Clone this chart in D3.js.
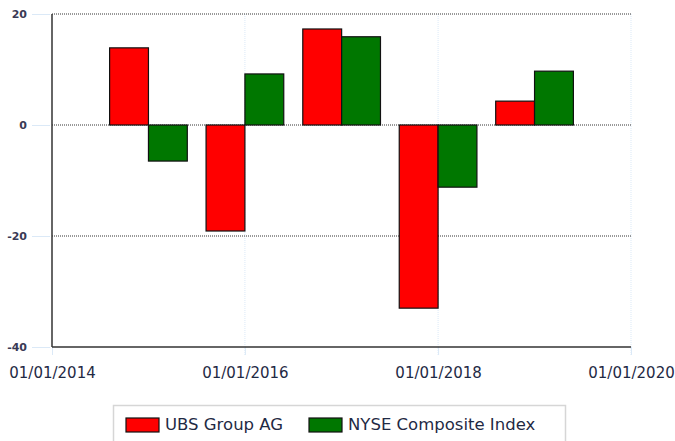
<!DOCTYPE html>
<html>
  <head>
    <style>
      body,
      html {
        margin: 0;
        padding: 0;
        background: #fff;
      }
      text {
        font-family: 'DejaVu Sans', Verdana, sans-serif;
      }
    </style>
  </head>
  <body>
    <svg id="svg" width="675" height="441"></svg>

    <script src="https://cdn.jsdelivr.net/npm/d3@7"></script>
    <script>
      const dates = ['2015-01-01', '2016-01-01', '2017-01-01', '2018-01-01', '2019-01-01'];
      const ubs = [13.9, -19.1, 17.3, -33.0, 4.3];
      const nyse = [-6.5, 9.2, 15.9, -11.2, 9.7];
      const seriesNames = ['UBS Group AG', 'NYSE Composite Index'];
      const seriesColors = ['#ff0000', '#007700'];
      const yTicks = [-40, -20, 0, 20];
      const xTicks = ['2014-01-01', '2016-01-01', '2018-01-01', '2020-01-01'];

      const parse = d3.timeParse('%Y-%m-%d');
      const fmt = d3.timeFormat('%d/%m/%Y');

      const plot = { left: 52, right: 631, top: 14, bottom: 347 };

      const xScale = d3
        .scaleTime()
        .domain([parse('2014-01-01'), parse('2020-01-01')])
        .range([plot.left, plot.right]);

      const yScale = d3.scaleLinear().domain([-40, 20]).range([plot.bottom, plot.top]);

      const svg = d3.select('#svg');

      // vertical grid (faint blue)
      svg
        .append('g')
        .selectAll('line')
        .data(xTicks.slice(1))
        .enter()
        .append('line')
        .attr('x1', (d) => xScale(parse(d)))
        .attr('x2', (d) => xScale(parse(d)))
        .attr('y1', plot.top)
        .attr('y2', plot.bottom + 8)
        .attr('stroke', '#dbe9f7')
        .attr('stroke-dasharray', '1,1');

      // horizontal grid (dotted black)
      svg
        .append('g')
        .selectAll('line')
        .data(yTicks.slice(1))
        .enter()
        .append('line')
        .attr('x1', plot.left)
        .attr('x2', plot.right)
        .attr('y1', (d) => yScale(d))
        .attr('y2', (d) => yScale(d))
        .attr('stroke', '#333')
        .attr('stroke-dasharray', '1,1');

      // bars
      const data = dates.map((d, i) => ({ date: parse(d), values: [ubs[i], nyse[i]] }));
      const barW = xScale(parse('2015-01-01')) - xScale(parse('2014-08-07'));

      const barGroup = svg.append('g');
      data.forEach((d) => {
        const cx = xScale(d.date);
        d.values.forEach((v, s) => {
          barGroup
            .append('rect')
            .attr('x', s === 0 ? cx - barW : cx)
            .attr('y', yScale(Math.max(0, v)))
            .attr('width', barW)
            .attr('height', Math.abs(yScale(v) - yScale(0)))
            .attr('fill', seriesColors[s])
            .attr('stroke', '#111')
            .attr('stroke-width', 1.2);
        });
      });

      // y axis
      const leftAxis = d3
        .axisLeft(yScale)
        .tickValues(yTicks)
        .tickFormat((d) => String(d))
        .tickSize(18)
        .tickPadding(5);
      const gy = svg.append('g').attr('transform', `translate(${plot.left - 2}, 0)`).call(leftAxis);
      gy.select('.domain').remove();
      gy.selectAll('.tick line').attr('stroke', '#dbe9f7');
      gy.selectAll('.tick text')
        .attr('font-size', 11)
        .attr('font-family', "'DejaVu Sans', sans-serif")
        .attr('font-weight', 'bold')
        .attr('fill', '#3a3a55');

      // x axis
      const bottomAxis = d3
        .axisBottom(xScale)
        .tickValues(xTicks.map(parse))
        .tickFormat(fmt)
        .tickSize(8)
        .tickPadding(12);
      const gx = svg.append('g').attr('transform', `translate(0, ${plot.bottom})`).call(bottomAxis);
      gx.select('.domain').remove();
      gx.selectAll('.tick line').attr('stroke', '#dbe9f7');
      gx.selectAll('.tick text')
        .attr('font-size', 15)
        .attr('font-family', "'DejaVu Sans', sans-serif")
        .attr('fill', '#1f2a44');

      // axis lines
      svg.append('line').attr('x1', plot.left).attr('x2', plot.left).attr('y1', plot.top).attr('y2', plot.bottom)
        .attr('stroke', '#333').attr('stroke-width', 1.5);
      svg.append('line').attr('x1', plot.left).attr('x2', plot.right).attr('y1', plot.bottom).attr('y2', plot.bottom)
        .attr('stroke', '#333').attr('stroke-width', 1.5);

      // legend
      const legend = svg.append('g');
      legend
        .append('rect')
        .attr('x', 113.5)
        .attr('y', 405.5)
        .attr('width', 452)
        .attr('height', 40)
        .attr('fill', '#fff')
        .attr('stroke', '#d6d6d6')
        .attr('stroke-width', 1.5);
      const legendX = [126, 309];
      seriesNames.forEach((name, i) => {
        legend
          .append('rect')
          .attr('x', legendX[i])
          .attr('y', 418)
          .attr('width', 33)
          .attr('height', 14)
          .attr('fill', seriesColors[i])
          .attr('stroke', '#111')
          .attr('stroke-width', 1.2);
        legend
          .append('text')
          .attr('x', legendX[i] + 39)
          .attr('y', 430)
          .attr('font-size', 16.5)
          .attr('fill', '#1f2a44')
          .text(name);
      });
    </script>
  </body>
</html>
